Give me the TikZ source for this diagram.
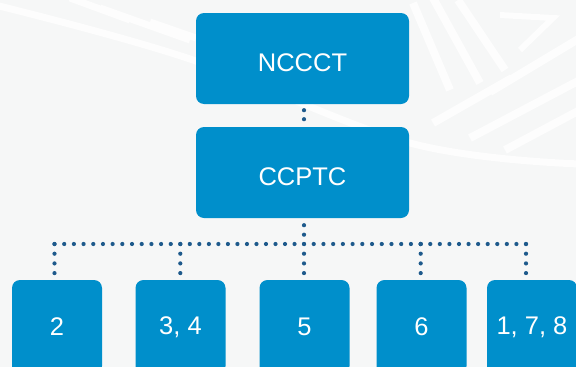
\documentclass[tikz,border=0pt]{standalone}
\usepackage{fontspec}
\setmainfont{Liberation Sans}
\definecolor{boxblue}{RGB}{0,143,203}
\definecolor{dotblue}{RGB}{30,90,140}
\definecolor{paper}{RGB}{246,247,247}
\definecolor{sheen}{RGB}{253,253,253}
\begin{document}
\begin{tikzpicture}[x=1pt,y=-1pt,
  unit/.style={draw=none, fill=boxblue, rounded corners=8pt, text=white,
    font=\fontsize{25.5}{30}\selectfont, inner sep=0pt},
  topunit/.style={unit, minimum width=213pt, minimum height=91pt,
    text height=26pt, text depth=0pt},
  subunit/.style={unit, minimum width=90pt, minimum height=94pt},
  dotline/.style={draw=dotblue, line width=4.2pt, line cap=round,
    dash pattern=on 0pt off #1},
  stripe/.style={draw=sheen, line width=#1, line cap=butt}
]
\useasboundingbox (0,0) rectangle (576,367);
\clip (0,0) rectangle (576,367);
\fill[paper] (0,0) rectangle (576,367);

% faint light pattern in the background
\draw[stripe=7pt] plot[smooth, tension=0.6] coordinates
  {(-5,5) (187,58) (410,143) (580,164)};
\draw[stripe=7pt] (70,-2) -- (130,20);
\draw[stripe=7pt] (100,8) -- (190,40);
\draw[stripe=7pt] (150,22) -- (196,38);
\draw[stripe=8pt] (413,3) -- (450,90);
\draw[stripe=8pt] (433,-2) -- (480,83);
\draw[stripe=8pt] (458,0) -- (505,70);
\draw[stripe=6pt] (500,15) -- (553,18) -- (520,50);
\draw[stripe=8pt] (490,92) -- (580,38);
\draw[stripe=8pt] (433,123) -- (512,78);
\draw[stripe=8pt] (470,138) -- (580,80);
\draw[stripe=8pt] (505,150) -- (580,110);

% units
\node[topunit] (nccct) at (302.5,58.5) {NCCCT};
\node[topunit] (ccptc) at (302.5,172.5) {CCPTC};
\node[subunit] (u2)   at (57,327)    {2};
\node[subunit] (u34)  at (180.5,327) {3, 4};
\node[subunit] (u5)   at (304.5,327) {5};
\node[subunit] (u6)   at (421.5,327) {6};
\node[subunit] (u178) at (532,327)   {1, 7, 8};

% branch points on the bus
\coordinate (b1) at (54.5,244);
\coordinate (b2) at (180.3,244);
\coordinate (b3) at (304,244);
\coordinate (b4) at (420.7,244);
\coordinate (b5) at (526,244);

% dotted connectors
\draw[dotline=9pt, dash phase=3pt] (b3 |- nccct.south) -- (b3 |- ccptc.north);
\draw[dotline=9.5pt, dash phase=2.5pt] (b3 |- ccptc.south) -- (b3);
\draw[dotline=9.69pt] (b1) -- (b2);
\draw[dotline=9.52pt] (b2) -- (b3);
\draw[dotline=9.72pt] (b3) -- (b4);
\draw[dotline=9.57pt] (b4) -- (b5);
\draw[dotline=9.7pt] (b1) -- (b1 |- u2.north);
\draw[dotline=9.7pt] (b2) -- (b2 |- u34.north);
\draw[dotline=9.7pt] (b3) -- (b3 |- u5.north);
\draw[dotline=9.7pt] (b4) -- (b4 |- u6.north);
\draw[dotline=9.7pt] (b5) -- (b5 |- u178.north);
\end{tikzpicture}
\end{document}
